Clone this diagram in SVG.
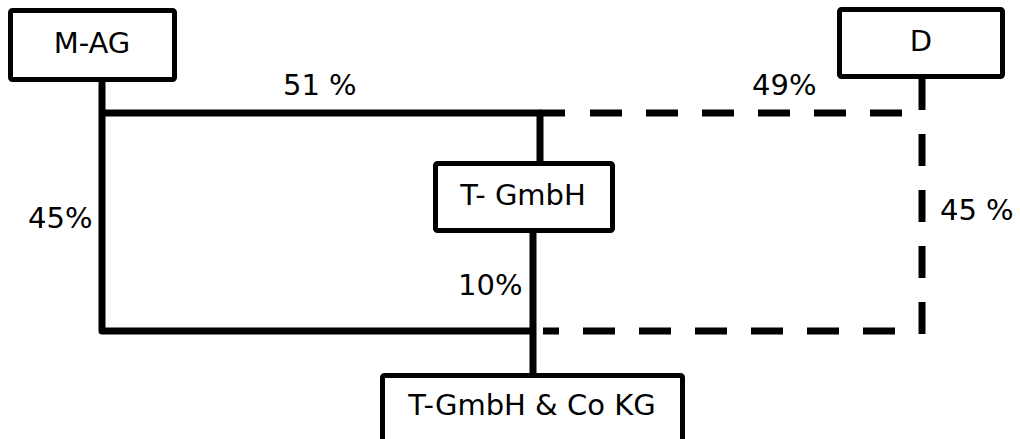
<svg xmlns="http://www.w3.org/2000/svg" width="1020" height="439" viewBox="0 0 1020 439">
  <style>
    .box { fill: #fff; stroke: #000; stroke-width: 5; }
    .lbl { font-family: "DejaVu Sans", Verdana, sans-serif; font-size: 29px; fill: #000; }
    .mid { text-anchor: middle; }
    .solid { fill: none; stroke: #000; stroke-width: 7; stroke-linejoin: round; }
    .dash { fill: none; stroke: #000; stroke-width: 7; stroke-dasharray: 32 24; }
  </style>
  <rect width="1020" height="439" fill="#fff"/>

  <g id="connectors">
    <!-- solid holdings -->
    <path class="solid" d="M102 82 V331 H533"/>
    <path class="solid" d="M102 113 H540 V163"/>
    <path class="solid" d="M533 231 V376"/>
    <path class="solid" d="M540 113 H565"/>
    <!-- dashed holdings -->
    <path class="dash" d="M590 113 H902"/>
    <path class="dash" d="M922 78 V334"/>
    <path class="solid" d="M543 331 H559" stroke-linejoin="miter"/>
    <path class="dash" d="M583 331 H895"/>
  </g>

  <g id="labels">
    <text class="lbl" x="283" y="95">51 %</text>
    <text class="lbl" x="752" y="95">49%</text>
    <text class="lbl" x="28" y="228">45%</text>
    <text class="lbl" x="940" y="220">45 %</text>
    <text class="lbl" x="458" y="295">10%</text>
  </g>

  <g id="node-mag">
    <rect class="box" x="10.5" y="10.5" width="164" height="69" rx="2"/>
    <text class="lbl mid" x="92" y="53">M-AG</text>
  </g>
  <g id="node-d">
    <rect class="box" x="839.5" y="9.5" width="163" height="67" rx="2"/>
    <text class="lbl mid" x="921" y="51">D</text>
  </g>
  <g id="node-tgmbh">
    <rect class="box" x="435.5" y="163.5" width="177" height="67" rx="2"/>
    <text class="lbl mid" x="523" y="205">T- GmbH</text>
  </g>
  <g id="node-kg">
    <rect class="box" x="382.5" y="375.5" width="300" height="80" rx="2"/>
    <text class="lbl mid" x="532" y="415">T-GmbH &amp; Co KG</text>
  </g>
</svg>
